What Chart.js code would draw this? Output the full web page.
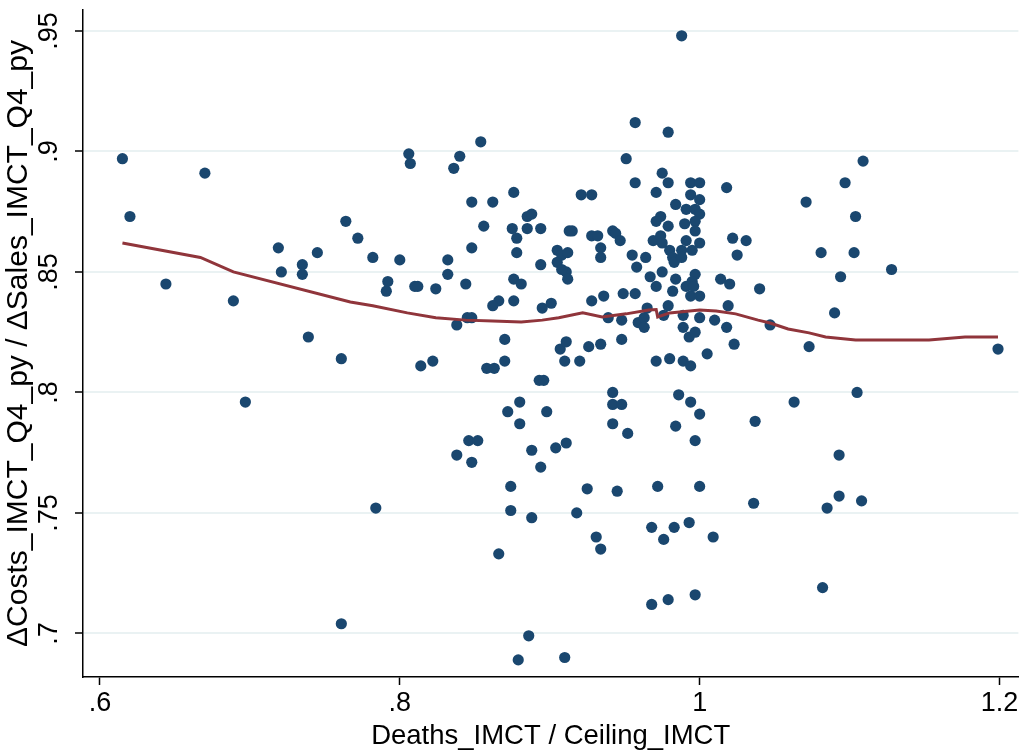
<!DOCTYPE html>
<html>
<head>
<meta charset="utf-8">
<script src="https://cdn.jsdelivr.net/npm/chart.js@4.4.1/dist/chart.umd.min.js"></script>
<style>
  html, body { margin: 0; padding: 0; background: #fff; }
  canvas { display: block; }
</style>
</head>
<body>
<canvas id="ratioChart" width="1024" height="750"></canvas>
<script>
// --- Scatter: Deaths_IMCT / Ceiling_IMCT vs. cost/sales change ratio ---
const ratioX = [
  .615, .620, .644, .670, .689, .697, .719, .721, .735, .735, .745, .739, .761, .764, .761, .772,
  .782, .800, .792, .791, .810, .812, .824, .832, .832, .844, .848, .848, .856, .862, .876, .806,
  .807, .840, .836, .854, .885, .888, .875, .885, .894, .878, .878, .894, .876, .881, .866, .862,
  .876, .895, .901, .845, .848, .838, .870, .870, .858, .863, .814, .822, .907, .911, .913, .910,
  .893, .896, .880, .872, .898, .880, .846, .852, .838, .848, .888, .894, .904, .911, .874, .874,
  .888, .784, .866, .886, .879, .910,
  .988, .957, .979, .951, .975, .957, .979, .971, .921, .928, 1.018, .994, 1.000, .994, 1.000, .984,
  .991, .997, 1.000, .974, .971, .990, .997, .979, .915, .928, .932, .942, .944, .947, .969, .974,
  .975, .997, .991, 1.000, 1.022, 1.031, 1.025, .934, .934, .955, .964, .980, .982, .988, .995, .983,
  .988, .911, .912, .958, .967, .971, .975, .984, .982, .991, .994, 1.000, .997, .995, 1.014, 1.020,
  .928, .936, .949, .957, .939, .948, .959, .963, .963, .965, .976, .979, .989, 1.000, 1.010, 1.019,
  1.018, .989, .993, .997, 1.023, 1.005, .948, .926, .934, .920, .971, .980, .989, .994, .942, .942,
  .948, .986, .994, 1.000, .942, .952, .984, .997, 1.037, .925, .945, .972, 1.000, 1.036, .918, .931,
  .934, .968, .976, .983, .993, 1.009, .968, .979, .997, .905, .908, .912, .905, .908, .996,
  1.109, 1.097, 1.071, 1.104, 1.081, 1.103, 1.128, 1.040, 1.094, 1.090, 1.047, 1.073, 1.199, 1.105,
  1.063, 1.093, 1.093, 1.108, 1.085, 1.082
];
const ratioY = [
  .897, .873, .845, .891, .838, .796, .860, .850, .853, .849, .858, .823, .814, .871, .704, .864,
  .856, .855, .846, .842, .844, .844, .843, .855, .849, .845, .860, .879, .869, .879, .883, .899,
  .895, .898, .893, .904, .873, .874, .868, .868, .868, .864, .858, .853, .847, .845, .838, .836,
  .838, .835, .837, .831, .831, .828, .822, .813, .810, .810, .811, .813, .818, .821, .867, .813,
  .805, .805, .796, .792, .792, .787, .780, .780, .774, .771, .776, .769, .777, .779, .761, .751,
  .748, .752, .733, .699, .689, .690,
  .948, .912, .908, .897, .891, .887, .887, .883, .882, .882, .885, .887, .887, .882, .880, .878,
  .876, .876, .874, .873, .871, .870, .871, .869, .867, .865, .865, .867, .866, .863, .863, .865,
  .862, .867, .863, .862, .864, .863, .857, .860, .856, .857, .856, .859, .856, .859, .859, .854,
  .856, .850, .847, .852, .848, .844, .850, .847, .842, .844, .840, .840, .849, .846, .847, .845,
  .838, .840, .841, .841, .831, .830, .829, .831, .827, .835, .832, .836, .832, .831, .830, .836,
  .827, .827, .823, .825, .820, .816, .822, .819, .820, .813, .813, .814, .813, .811, .800, .795,
  .795, .799, .796, .791, .787, .783, .786, .780, .788, .760, .759, .761, .761, .754, .750, .740,
  .735, .744, .739, .744, .746, .740, .712, .714, .716, .859, .857, .858, .854, .851, .844,
  .896, .887, .879, .873, .858, .858, .851, .843, .848, .833, .828, .819, .818, .800,
  .796, .774, .757, .755, .752, .719
];

// --- Lowess smoother ---
const lowessX = [.615, .667, .689, .767, .782, .805, .824, .844, .862, .881, .895, .906, .922, .935,
  .951, .966, .971, .972, .980, 1.000, 1.011, 1.024, 1.039, 1.047, 1.059, 1.073, 1.084, 1.104,
  1.153, 1.177, 1.199];
const lowessY = [.862, .856, .850, .8375, .836, .833, .831, .830, .8296, .8292, .830, .831, .833, .8313,
  .8326, .8342, .8344, .8313, .833, .8342, .8338, .8326, .830, .8288, .8263, .8247, .823, .8218,
  .8218, .823, .823];

const xTicks = [0.6, 0.8, 1, 1.2];
const yTicks = [0.7, 0.75, 0.8, 0.85, 0.9, 0.95];

const FONT = '"Liberation Sans", Arial, sans-serif';
const TICK_SIZE = 27;

// Stata-style labels: ".8" instead of "0.8"
function stataLabel(v) {
  return String(+v.toFixed(2)).replace(/^0\./, '.');
}

// --- Vertical y tick labels (rotated like Stata) ---
const yTickLabels = {
  id: 'yTickLabels',
  afterDraw(chart) {
    const { ctx } = chart;
    const y = chart.scales.y;
    ctx.save();
    ctx.font = `${TICK_SIZE}px ${FONT}`;
    ctx.fillStyle = '#000';
    ctx.textAlign = 'center';
    ctx.textBaseline = 'alphabetic';
    yTicks.forEach(v => {
      ctx.save();
      ctx.translate(57, y.getPixelForValue(v));
      ctx.rotate(-Math.PI / 2);
      ctx.fillText(stataLabel(v), 0, 0);
      ctx.restore();
    });
    ctx.restore();
  }
};

const points = ratioX.map((x, i) => ({ x: x, y: ratioY[i] }));
const smooth = lowessX.map((x, i) => ({ x: x, y: lowessY[i] }));

new Chart(document.getElementById('ratioChart'), {
  type: 'scatter',
  data: {
    datasets: [
      {
        data: points,
        pointRadius: 5.6,
        pointBackgroundColor: '#1a476f',
        pointBorderWidth: 0,
        order: 2
      },
      {
        type: 'line',
        data: smooth,
        borderColor: '#90353b',
        borderWidth: 3,
        pointRadius: 0,
        tension: 0,
        fill: false,
        order: 1
      }
    ]
  },
  options: {
    responsive: false,
    animation: false,
    layout: { padding: { top: 10, right: 4, left: 0, bottom: 0 } },
    plugins: { legend: { display: false }, tooltip: { enabled: false } },
    scales: {
      x: {
        type: 'linear',
        min: 0.5887,
        max: 1.2126,
        afterBuildTicks: s => { s.ticks = xTicks.map(v => ({ value: v })); },
        afterFit: s => { s.height = 73; },
        ticks: {
          callback: v => stataLabel(v),
          font: { family: FONT, size: TICK_SIZE },
          color: '#000',
          padding: 2,
          maxRotation: 0,
          autoSkip: false
        },
        grid: { drawOnChartArea: false, drawTicks: true, tickLength: 8, tickColor: '#000', tickWidth: 1.5 },
        border: { display: true, color: '#000', width: 1.5 },
        title: {
          display: true,
          text: 'Deaths_IMCT / Ceiling_IMCT',
          font: { family: FONT, size: 27.5, lineHeight: 1 },
          color: '#000',
          padding: { top: 0, bottom: 0 }
        }
      },
      y: {
        type: 'linear',
        min: 0.6819,
        max: 0.9587,
        afterBuildTicks: s => { s.ticks = yTicks.map(v => ({ value: v })); },
        afterFit: s => { s.width = 83; },
        ticks: { display: false },
        grid: { color: '#eaf2f3', lineWidth: 2, drawTicks: true, tickLength: 8, tickColor: '#000', tickWidth: 1.5 },
        border: { display: true, color: '#000', width: 1.5 },
        title: {
          display: true,
          text: 'ΔCosts_IMCT_Q4_py / ΔSales_IMCT_Q4_py',
          font: { family: FONT, size: 30, lineHeight: 1 },
          color: '#000',
          padding: { top: 3.5, bottom: 0 }
        }
      }
    }
  },
  plugins: [yTickLabels]
});
</script>
</body>
</html>
